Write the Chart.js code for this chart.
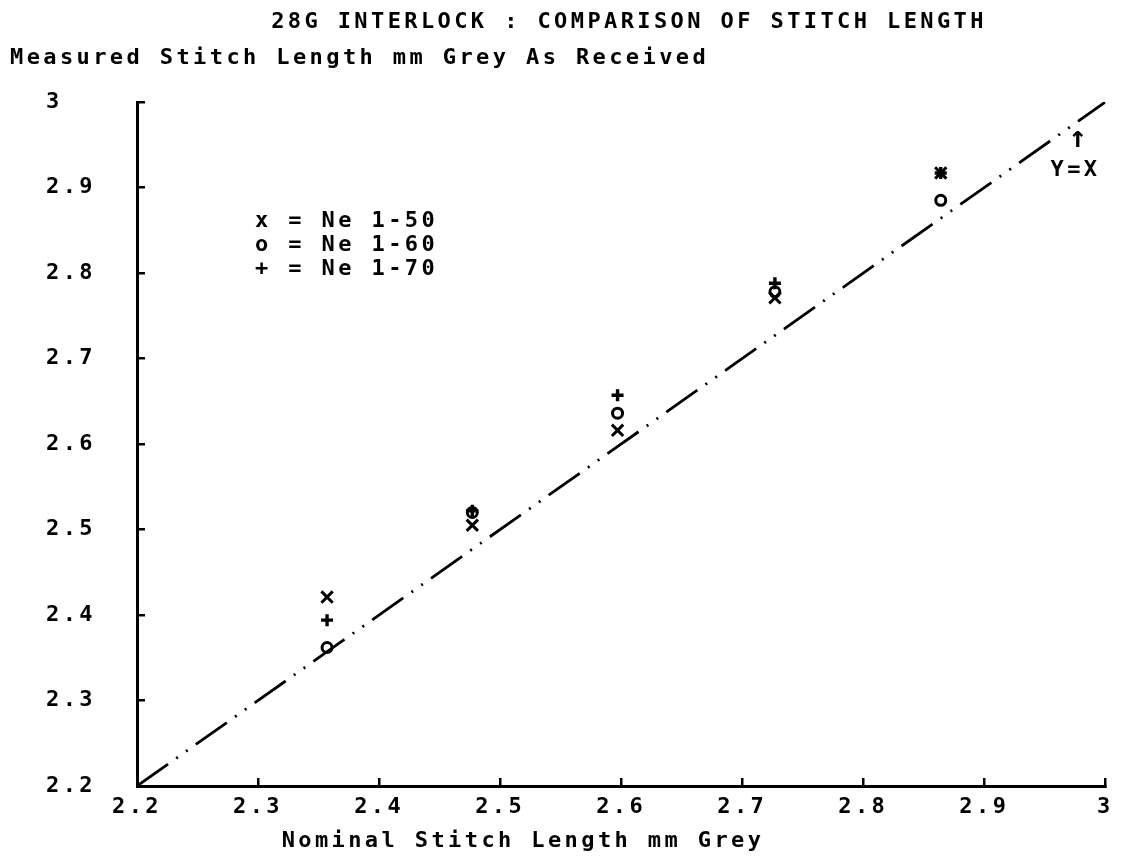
<!DOCTYPE html>
<html>
<head>
<meta charset="utf-8">
<title>28G Interlock : Comparison of Stitch Length</title>
<script src="https://cdn.jsdelivr.net/npm/chart.js@4/dist/chart.umd.min.js"></script>
<style>
    html, body { margin: 0; padding: 0; background: #fff; }
    #wrap { position: relative; width: 1128px; height: 857px; }
</style>
</head>
<body>
<div id="wrap"><canvas id="stitchChart"></canvas></div>
<script>
const stitchChart = document.getElementById("stitchChart");

// nominal stitch length per machine setting
const nominal = [2.357, 2.477, 2.597, 2.727, 2.864];

// measured (grey, as received) per yarn count
const ne50 = [2.421, 2.505, 2.616, 2.771, 2.917];
const ne60 = [2.362, 2.520, 2.636, 2.778, 2.885];
const ne70 = [2.394, 2.522, 2.657, 2.788, 2.917];

const seriesLabels = ['Ne 1-50', 'Ne 1-60', 'Ne 1-70'];
const seriesSymbols = ['x', 'o', '+'];

const diagonal = [2.2, 3];
const xTicks = [2.2, 2.3, 2.4, 2.5, 2.6, 2.7, 2.8, 2.9, 3];
const yTicks = [2.2, 2.3, 2.4, 2.5, 2.6, 2.7, 2.8, 2.9, 3];

const FONT = '"DejaVu Sans Mono", "Liberation Mono", monospace';
const SPACING = '3.4px';

const toPoints = ys => nominal.map((x, i) => ({x: x, y: ys[i]}));
const fmt = v => String(Math.round(v * 10) / 10);

// plotter style text: wide letter spacing everywhere
const plotterText = {
    id: 'plotterText',
    beforeDraw(chart) {
        chart.ctx.letterSpacing = SPACING;
    },
    afterDraw(chart) {
        const ctx = chart.ctx;
        const {x, y} = chart.scales;
        ctx.save();
        ctx.letterSpacing = SPACING;
        ctx.fillStyle = '#000';
        ctx.font = 'bold 22px ' + FONT;
        ctx.textBaseline = 'middle';

        ctx.textAlign = 'center';
        ctx.fillText('28G INTERLOCK : COMPARISON OF STITCH LENGTH', 629, 22);

        ctx.textAlign = 'left';
        ctx.fillText('Measured Stitch Length mm Grey As Received', 10, 58);

        ctx.textAlign = 'center';
        ctx.fillText('Nominal Stitch Length mm Grey', 523, 841);

        // symbol key
        ctx.textAlign = 'left';
        seriesLabels.forEach((label, i) => {
            ctx.fillText(seriesSymbols[i] + ' = ' + label, 255, 221 + i * 24);
        });

        // Y=X marker near the end of the diagonal
        const ax = x.getPixelForValue(2.977);
        ctx.textAlign = 'center';
        ctx.fillText('Y=X', ax - 2, y.getPixelForValue(2.92));
        ctx.letterSpacing = '0px';
        ctx.font = 'bold 30px ' + FONT;
        ctx.fillText('\u2191', ax, y.getPixelForValue(2.957));
        ctx.restore();
    }
};

const markerBase = {
    type: 'scatter',
    borderColor: '#000',
    backgroundColor: 'transparent',
    borderWidth: 3,
    pointHoverRadius: 6
};

new Chart(stitchChart, {
    type: 'scatter',
    data: {
        datasets: [
            {
                label: 'Y=X',
                type: 'line',
                data: diagonal.map(v => ({x: v, y: v})),
                borderColor: '#000',
                borderWidth: 2.8,
                borderDash: [38, 10, 2, 10, 2, 10],
                pointRadius: 0,
                fill: false,
                order: 4
            },
            Object.assign({}, markerBase, {
                label: seriesLabels[0],
                data: toPoints(ne50),
                pointStyle: 'crossRot',
                pointRadius: 8,
                order: 1
            }),
            Object.assign({}, markerBase, {
                label: seriesLabels[1],
                data: toPoints(ne60),
                pointStyle: 'circle',
                pointRadius: 5,
                order: 2
            }),
            Object.assign({}, markerBase, {
                label: seriesLabels[2],
                data: toPoints(ne70),
                pointStyle: 'cross',
                pointRadius: 6,
                borderWidth: 3.4,
                order: 3
            })
        ]
    },
    options: {
        responsive: true,
        maintainAspectRatio: false,
        animation: false,
        layout: {
            padding: {left: 46, top: 102, right: 21, bottom: 0}
        },
        scales: {
            x: {
                type: 'linear',
                min: 2.2,
                max: 3,
                afterBuildTicks: scale => { scale.ticks = xTicks.map(v => ({value: v})); },
                afterFit: scale => { scale.height = 71; },
                border: {display: true, color: '#000', width: 3},
                grid: {display: true, drawOnChartArea: false, color: '#000', lineWidth: 2.5, tickLength: -8},
                ticks: {
                    color: '#000',
                    padding: 16,
                    maxRotation: 0,
                    font: {family: FONT, size: 22, weight: 'bold'},
                    callback: value => fmt(value)
                }
            },
            y: {
                type: 'linear',
                min: 2.2,
                max: 3,
                afterBuildTicks: scale => { scale.ticks = yTicks.map(v => ({value: v})); },
                afterFit: scale => { scale.width = 91; },
                border: {display: true, color: '#000', width: 3},
                grid: {display: true, drawOnChartArea: false, color: '#000', lineWidth: 2.5, tickLength: -8},
                ticks: {
                    color: '#000',
                    crossAlign: 'far',
                    font: {family: FONT, size: 22, weight: 'bold'},
                    callback: value => fmt(value)
                }
            }
        },
        plugins: {
            legend: {display: false},
            title: {display: false},
            tooltip: {enabled: false}
        }
    },
    plugins: [plotterText]
});
</script>
</body>
</html>
